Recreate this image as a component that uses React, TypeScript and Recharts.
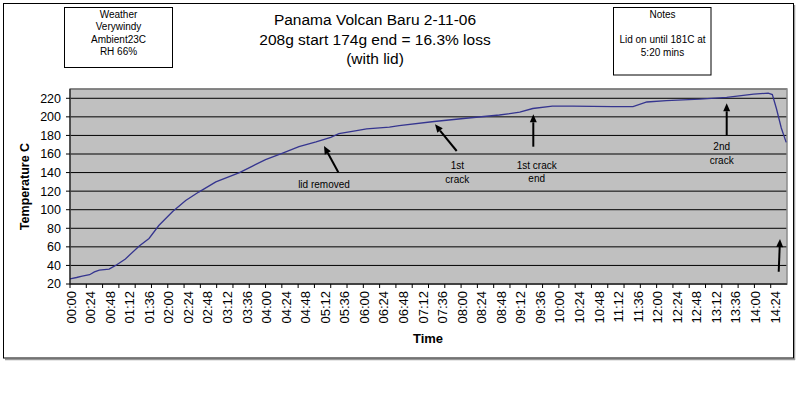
import React from 'react';
import { LineChart, Line, XAxis, YAxis, CartesianGrid, ReferenceArea } from 'recharts';

// Roast time in seconds and bean temperature (°C)
const timeSeconds = [
  0, 8, 15, 24, 30, 36, 48, 56, 68, 85, 97, 109, 126, 142, 158, 179, 208, 224, 240,
  261, 281, 302, 320, 330, 350, 364, 392, 404, 447, 486, 527, 552, 568, 592, 617,
  666, 691, 708, 732, 773, 806, 839, 857, 862, 867, 873, 879,
];
const temperatures = [
  25.5, 27, 28.5, 30, 33, 35, 36, 40, 47, 61, 69, 83, 98, 110, 119, 130, 140, 147, 154,
  161, 168, 173, 178, 182, 185, 187, 189, 190.5, 195, 198.5, 202, 205, 209, 211.5, 211.5,
  211, 211, 216, 217.5, 219, 221, 224.5, 225.5, 224, 209, 188, 172.5,
];

const timeLabels = [
  '00:00', '00:24', '00:48', '01:12', '01:36', '02:00', '02:24', '02:48', '03:12', '03:36',
  '04:00', '04:24', '04:48', '05:12', '05:36', '06:00', '06:24', '06:48', '07:12', '07:36',
  '08:00', '08:24', '08:48', '09:12', '09:36', '10:00', '10:24', '10:48', '11:12', '11:36',
  '12:00', '12:24', '12:48', '13:12', '13:36', '14:00', '14:24',
];
const labelStep = 24; // seconds between labels
const tickMarkStep = 20; // seconds between tick marks
const tempTicks = [20, 40, 60, 80, 100, 120, 140, 160, 180, 200, 220];

const data = timeSeconds.map((t, i) => ({ t, temp: temperatures[i] }));

const xTickSet = new Set<number>();
for (let v = 0; v <= 860; v += tickMarkStep) xTickSet.add(v);
timeLabels.forEach((_, i) => xTickSet.add(i * labelStep));
const xTicks = Array.from(xTickSet).sort((a, b) => a - b);

const FONT = '"Liberation Sans", Arial, sans-serif';

const XTick = (props: any) => {
  const { x, y, payload } = props;
  const v = payload.value as number;
  const showLine = v % tickMarkStep === 0;
  const idx = v % labelStep === 0 ? v / labelStep : -1;
  return (
    <g>
      {showLine && <line x1={x} x2={x} y1={y} y2={y + 4} stroke="#000" strokeWidth={1} />}
      {idx >= 0 && idx < timeLabels.length && (
        <text
          transform={`translate(${x + 1},${y + 7}) rotate(-90)`}
          textAnchor="end"
          dy="0.35em"
          fontSize={13}
          fontFamily={FONT}
          fill="#000"
        >
          {timeLabels[idx]}
        </text>
      )}
    </g>
  );
};

const Arrow = ({ x1, y1, x2, y2 }: { x1: number; y1: number; x2: number; y2: number }) => {
  const ang = Math.atan2(y2 - y1, x2 - x1);
  const len = 8;
  const w = 3.5;
  const bx = x2 - len * Math.cos(ang);
  const by = y2 - len * Math.sin(ang);
  const px = -Math.sin(ang) * w;
  const py = Math.cos(ang) * w;
  return (
    <g>
      <line x1={x1} y1={y1} x2={bx} y2={by} stroke="#000" strokeWidth={2} />
      <polygon points={`${x2},${y2} ${bx + px},${by + py} ${bx - px},${by - py}`} fill="#000" />
    </g>
  );
};

const T = (p: any) => (
  <text fontFamily={FONT} fill="#000" textAnchor="middle" dominantBaseline="central" {...p} />
);

export default function App() {
  return (
    <div style={{ position: 'absolute', left: 0, top: 0, width: 799, height: 403, background: '#fff' }}>
      <LineChart width={799} height={403} data={data} margin={{ top: 89, right: 12, bottom: 0, left: 0 }}>
        <CartesianGrid vertical={false} stroke="#000" fill="#C0C0C0" fillOpacity={1} />
        <ReferenceArea x1={0} x2={880} y1={20} y2={230} fill="none" stroke="#8a8a8a" strokeWidth={1.5} ifOverflow="extendDomain" />
        <XAxis
          dataKey="t"
          type="number"
          domain={[0, 880]}
          ticks={xTicks}
          interval={0}
          tick={(p: any) => <XTick {...p} />}
          tickLine={false}
          tickSize={0}
          tickMargin={0}
          axisLine={{ stroke: '#000' }}
          height={119}
          allowDataOverflow
        />
        <YAxis
          type="number"
          domain={[20, 230]}
          ticks={tempTicks}
          interval={0}
          width={70}
          tickSize={4}
          tickMargin={5}
          tickLine={{ stroke: '#000' }}
          axisLine={{ stroke: '#000' }}
          tick={{ fontSize: 12.5, fill: '#000', fontFamily: FONT }}
          allowDataOverflow
        />
        <Line
          type="linear"
          dataKey="temp"
          stroke="#35358f"
          strokeWidth={1.3}
          dot={false}
          isAnimationActive={false}
        />
      </LineChart>
      <svg
        width={799}
        height={403}
        style={{ position: 'absolute', left: 0, top: 0, pointerEvents: 'none' }}
      >
        {/* outer chart border with shadow */}
        <line x1={5} y1={359.5} x2={795} y2={359.5} stroke="#9a9a9a" strokeWidth={1.5} />
        <line x1={794.5} y1={5} x2={794.5} y2={360} stroke="#9a9a9a" strokeWidth={1.5} />
        <rect x={3.5} y={3.5} width={790} height={354.5} fill="none" stroke="#000" strokeWidth={1} />

        {/* title */}
        <g fontSize={15.5} fontFamily={FONT} fill="#000" textAnchor="middle">
          <text x={375} y={25}>Panama Volcan Baru 2-11-06</text>
          <text x={375} y={44.5}>208g start 174g end = 16.3% loss</text>
          <text x={375} y={63.5}>(with lid)</text>
        </g>

        {/* weather box */}
        <rect x={64.5} y={7.5} width={108} height={60} fill="#fff" stroke="#000" strokeWidth={1} />
        <g fontSize={10}>
          <T x={118.5} y={14.3}>Weather</T>
          <T x={118.5} y={26.7}>Verywindy</T>
          <T x={118.5} y={39}>Ambient23C</T>
          <T x={118.5} y={51.5}>RH 66%</T>
        </g>

        {/* notes box */}
        <rect x={613.5} y={7.5} width={97.5} height={67.5} fill="#fff" stroke="#000" strokeWidth={1} />
        <g fontSize={10}>
          <T x={662.5} y={14.7}>Notes</T>
          <T x={662.5} y={39.3}>Lid on until 181C at</T>
          <T x={662.5} y={52.7}>5:20 mins</T>
        </g>

        {/* axis titles */}
        <text
          transform="translate(24.5,186.5) rotate(-90)"
          textAnchor="middle"
          dominantBaseline="central"
          fontSize={12.5}
          fontWeight="bold"
          fontFamily={FONT}
        >
          Temperature C
        </text>
        <T x={428} y={338} fontSize={13} fontWeight="bold">Time</T>

        {/* annotations */}
        <Arrow x1={338.3} y1={172.3} x2={324} y2={146} />
        <T x={324} y={184.3} fontSize={10}>lid removed</T>

        <Arrow x1={456.7} y1={151} x2={435} y2={124.3} />
        <T x={457.3} y={165} fontSize={10}>1st</T>
        <T x={457.3} y={179.3} fontSize={10}>crack</T>

        <Arrow x1={533.3} y1={146.7} x2={533.3} y2={114.3} />
        <T x={536.7} y={165.7} fontSize={10}>1st crack</T>
        <T x={536.7} y={178.3} fontSize={10}>end</T>

        <Arrow x1={726.7} y1={135} x2={726.7} y2={103.3} />
        <T x={721.7} y={146.7} fontSize={10}>2nd</T>
        <T x={721.7} y={160} fontSize={10}>crack</T>

        <Arrow x1={778.7} y1={271.7} x2={780} y2={239} />
      </svg>
    </div>
  );
}
